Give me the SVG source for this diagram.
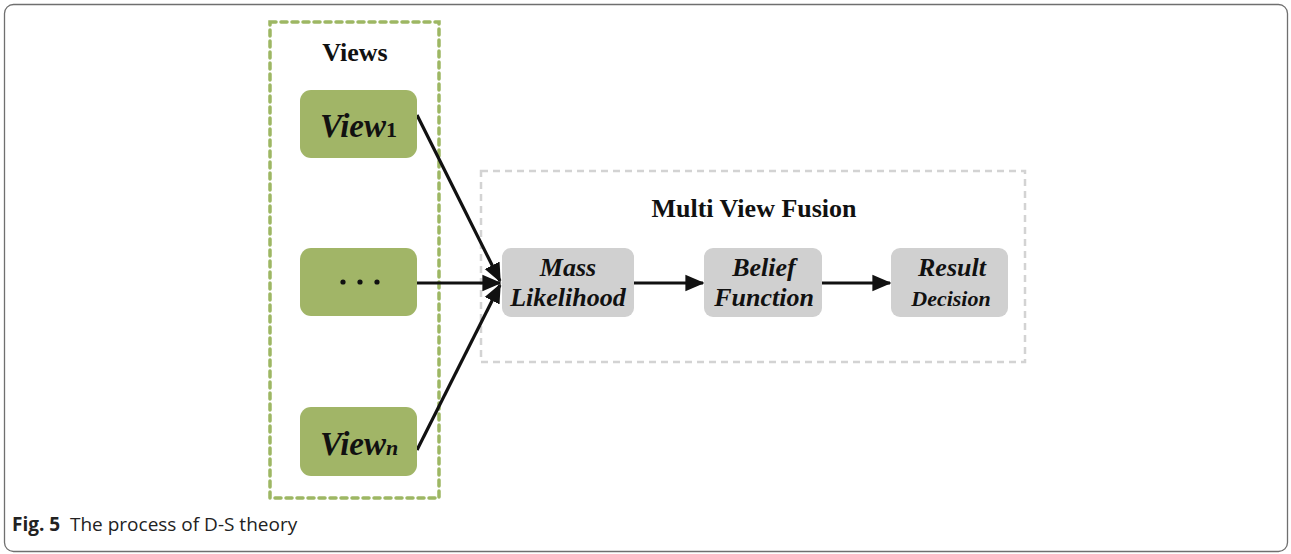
<svg xmlns="http://www.w3.org/2000/svg" width="1291" height="554" viewBox="0 0 1291 554">
<style>
.frame{fill:#fff;stroke:#6f6f6f;stroke-width:1.3}
.gbox{fill:none;stroke:#9db763;stroke-width:3.5;stroke-dasharray:6 5;stroke-linecap:round}
.sbox{fill:none;stroke:#d3d3d3;stroke-width:2.5;stroke-dasharray:7 5}
.vnode{fill:#a1b567}
.pnode{fill:#d0d0d0}
.title{font-family:"Liberation Serif",serif;font-weight:bold;font-size:26px;fill:#111;text-anchor:middle}
.vt{font-family:"Liberation Serif",serif;font-weight:bold;font-style:italic;font-size:33px;fill:#111}
.pt{font-family:"Liberation Serif",serif;font-weight:bold;font-style:italic;font-size:26px;fill:#111;text-anchor:middle}
.edge{stroke:#111;stroke-width:3.2;fill:none}
.cap{font-family:"Open Sans","Noto Sans",sans-serif;font-size:19px;fill:#222}
</style>
<defs>
<marker id="ah" markerWidth="6" markerHeight="6" refX="5.5" refY="3" orient="auto" markerUnits="strokeWidth">
<path d="M0,0.4 L6,3 L0,5.6 z" fill="#111"/>
</marker>
</defs>
<rect class="frame" x="4.5" y="4.5" width="1283" height="547" rx="9"/>
<rect class="gbox" x="270" y="22" width="169" height="476"/>
<text class="title" x="355" y="61">Views</text>
<rect class="sbox" x="481" y="171" width="544" height="191"/>
<text class="title" x="754" y="217">Multi View Fusion</text>
<g id="connectors">
<line class="edge" x1="417" y1="115" x2="500" y2="281" marker-end="url(#ah)"/>
<line class="edge" x1="417" y1="283" x2="500" y2="283" marker-end="url(#ah)"/>
<line class="edge" x1="417" y1="450" x2="500" y2="285" marker-end="url(#ah)"/>
<line class="edge" x1="634" y1="283" x2="703" y2="283" marker-end="url(#ah)"/>
<line class="edge" x1="822" y1="283" x2="890" y2="283" marker-end="url(#ah)"/>
</g>
<g id="view1">
<rect class="vnode" x="300" y="90" width="117" height="68" rx="11"/>
<text class="vt" x="320" y="137">View<tspan style="font-style:normal;font-size:22px">1</tspan></text>
</g>
<g id="viewdots">
<rect class="vnode" x="300" y="248" width="117" height="68" rx="11"/>
<circle cx="343" cy="282" r="2.6" fill="#111"/>
<circle cx="360" cy="282" r="2.6" fill="#111"/>
<circle cx="377" cy="282" r="2.6" fill="#111"/>
</g>
<g id="viewn">
<rect class="vnode" x="300" y="407" width="117" height="69" rx="11"/>
<text class="vt" x="320" y="455">View<tspan style="font-size:22px">n</tspan></text>
</g>
<g id="mass">
<rect class="pnode" x="502" y="248" width="132" height="69" rx="9"/>
<text class="pt" x="568" y="276">Mass</text>
<text class="pt" x="568" y="306">Likelihood</text>
</g>
<g id="belief">
<rect class="pnode" x="704" y="248" width="118" height="69" rx="9"/>
<text class="pt" x="764" y="276">Belief</text>
<text class="pt" x="764" y="306">Function</text>
</g>
<g id="result">
<rect class="pnode" x="891" y="248" width="117" height="69" rx="9"/>
<text class="pt" x="952" y="276">Result</text>
<text class="pt" x="951" y="306" style="font-size:22px">Decision</text>
</g>
<text class="cap" x="12" y="531"><tspan font-weight="bold">Fig. 5</tspan><tspan x="70">The process of D-S theory</tspan></text>
</svg>
